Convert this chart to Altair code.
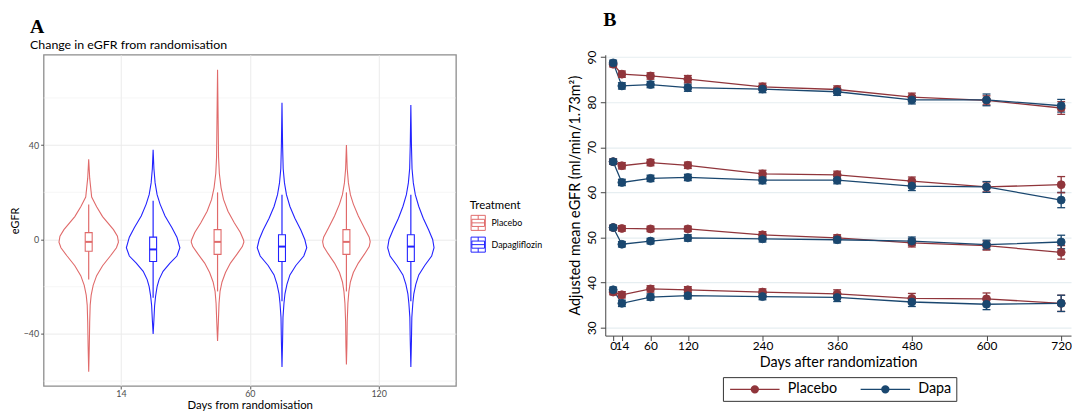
import altair as alt
import pandas as pd

FONT = "Lato"

# ---------------- Panel A data ----------------
TREATMENTS_A = ["Placebo", "Dapagliflozin"]
DAY_LABELS_A = ["14", "60", "120"]
COLORS_A = ["#E06A6A", "#2222FF"]

# violin outlines: eGFR change values and relative half-width (density)
viol_p14_y = [34, 26, 18, 13.9, 9.7, 4.2, 1.4, -1.1, -3.5, -6.9, -11.1, -15.3, -19.4, -23.6, -27.8, -35, -45, -56]
viol_p14_w = [0, 1, 3, 8, 14, 25, 29, 30, 28, 22, 14, 8, 4.5, 2.5, 1.5, 1, 0.6, 0]
viol_d14_y = [38, 30, 24, 19, 15, 10, 5, 1, -3.5, -7, -10, -13.5, -17, -20, -24, -28, -34, -40]
viol_d14_w = [0, 0.8, 2, 4, 7, 12, 19, 24, 27, 24, 17, 10, 6, 4, 2.5, 1.5, 0.8, 0]
viol_p60_y = [72, 50, 35, 28, 22, 17, 12, 7, 3, 0, -1, -3, -6, -10, -14, -18, -22, -27, -35, -43]
viol_p60_w = [0, 0.6, 1, 1.8, 3.5, 6, 10.5, 17, 23, 26, 26.6, 25, 20, 13, 8, 4.5, 2.5, 1.5, 0.8, 0]
viol_d60_y = [58, 40, 30, 24, 19, 14, 9, 4, 0, -3.5, -7, -11, -15, -19, -23, -27, -33, -43, -54]
viol_d60_w = [0, 0.6, 1.2, 2.5, 4.5, 8, 13, 19, 23, 25, 22, 14, 8, 5, 3, 2, 1, 0.6, 0]
viol_p120_y = [40, 30, 24, 19, 15, 10, 5, 1, -1, -3, -6, -10, -14, -18, -22, -27, -35, -45, -53]
viol_p120_w = [0, 0.8, 2, 4, 7, 12, 18, 23, 24, 23, 18.5, 12, 7, 4, 2.5, 1.5, 0.8, 0.5, 0]
viol_d120_y = [57, 40, 30, 24, 19, 14, 9, 4, 0, -3.5, -7, -11, -15, -19, -23, -27, -33, -43, -54]
viol_d120_w = [0, 0.6, 1.2, 2.5, 4.5, 8, 12.5, 18, 22, 23.4, 21, 14, 8, 5, 3, 2, 1, 0.6, 0]

# boxplots, order: P14, D14, P60, D60, P120, D120
box_q1 = [-5.0, -9.3, -6.3, -9.3, -6.3, -9.3]
box_med = [-1.0, -4.2, -1.0, -3.0, -1.0, -3.0]
box_q3 = [2.9, 1.0, 4.2, 2.0, 4.2, 2.0]
box_lo = [-16.9, -24.7, -22.0, -26.2, -22.0, -26.2]
box_hi = [14.8, 16.4, 20.0, 19.0, 20.0, 19.0]

MINOR_GRID_A = [-60, -20, 20, 60]

# ---------------- Panel B data ----------------
DAYS_B = [0, 14, 60, 120, 240, 360, 480, 600, 720]
TREATMENTS_B = ["Placebo", "Dapa"]
COLORS_B = ["#90353B", "#1A476F"]

g1_placebo = [88.4, 86.2, 85.8, 85.1, 83.4, 82.8, 81.1, 80.4, 78.7]
g1_dapa = [88.7, 83.6, 83.9, 83.2, 82.9, 82.3, 80.5, 80.5, 79.2]
g2_placebo = [66.8, 65.9, 66.6, 66.0, 64.1, 63.9, 62.5, 61.2, 61.7]
g2_dapa = [66.8, 62.2, 63.1, 63.3, 62.7, 62.7, 61.4, 61.2, 58.3]
g3_placebo = [52.2, 52.0, 51.9, 51.9, 50.6, 49.9, 48.8, 48.2, 46.7]
g3_dapa = [52.2, 48.5, 49.2, 49.9, 49.7, 49.5, 49.2, 48.4, 49.0]
g4_placebo = [37.9, 37.3, 38.6, 38.4, 37.9, 37.5, 36.5, 36.4, 35.4]
g4_dapa = [38.4, 35.4, 36.8, 37.1, 36.9, 36.7, 35.7, 35.2, 35.4]

g1_placebo_ci = [0.6, 0.7, 0.7, 0.8, 0.8, 0.8, 0.9, 1.0, 1.4]
g1_dapa_ci = [0.6, 0.7, 0.7, 0.8, 0.8, 0.8, 0.9, 1.3, 1.4]
g2_placebo_ci = [0.6, 0.7, 0.7, 0.7, 0.8, 0.8, 0.9, 1.1, 1.8]
g2_dapa_ci = [0.6, 0.7, 0.7, 0.7, 0.8, 0.8, 1.0, 1.2, 1.7]
g3_placebo_ci = [0.5, 0.6, 0.6, 0.6, 0.7, 0.7, 0.9, 1.0, 1.5]
g3_dapa_ci = [0.5, 0.6, 0.6, 0.7, 0.7, 0.7, 0.9, 1.0, 1.5]
g4_placebo_ci = [0.6, 0.7, 0.7, 0.7, 0.7, 0.9, 1.1, 1.3, 1.8]
g4_dapa_ci = [0.6, 0.7, 0.7, 0.7, 0.7, 0.9, 1.0, 1.2, 1.8]

# ---------------- build tables ----------------
DODGE = 0.25          # dodge offset (category units)
DENS_PX = 130.0       # px per category unit for density widths
BOX_HALF = 0.027      # box half width (category units)

violins = [
    (0, "Placebo", viol_p14_y, viol_p14_w),
    (0, "Dapagliflozin", viol_d14_y, viol_d14_w),
    (1, "Placebo", viol_p60_y, viol_p60_w),
    (1, "Dapagliflozin", viol_d60_y, viol_d60_w),
    (2, "Placebo", viol_p120_y, viol_p120_w),
    (2, "Dapagliflozin", viol_d120_y, viol_d120_w),
]
vrows, brows = [], []
for k, (di, tr, ys, ws) in enumerate(violins):
    c = di + 1 + (-DODGE if tr == "Placebo" else DODGE)
    for y, w in zip(ys, ws):
        vrows.append({"vid": k, "Treatment": tr, "y": y,
                      "xl": c - w / DENS_PX, "xr": c + w / DENS_PX})
    brows.append({"vid": k, "Treatment": tr, "c": c,
                  "bl": c - BOX_HALF, "br": c + BOX_HALF,
                  "q1": box_q1[k], "med": box_med[k], "q3": box_q3[k],
                  "lo": box_lo[k], "hi": box_hi[k]})
vdf = pd.DataFrame(vrows)
bdf = pd.DataFrame(brows)
gdf = pd.DataFrame({"g": MINOR_GRID_A})

series = [
    ("g1", "Placebo", g1_placebo, g1_placebo_ci), ("g1", "Dapa", g1_dapa, g1_dapa_ci),
    ("g2", "Placebo", g2_placebo, g2_placebo_ci), ("g2", "Dapa", g2_dapa, g2_dapa_ci),
    ("g3", "Placebo", g3_placebo, g3_placebo_ci), ("g3", "Dapa", g3_dapa, g3_dapa_ci),
    ("g4", "Placebo", g4_placebo, g4_placebo_ci), ("g4", "Dapa", g4_dapa, g4_dapa_ci),
]
lrows = []
for order in ["Placebo", "Dapa"]:
    for g, tr, vals, cis in series:
        if tr != order:
            continue
        for d, v, e in zip(DAYS_B, vals, cis):
            lrows.append({"grp": g + tr, "Treatment": tr, "day": d, "v": v,
                          "lo": v - e, "hi": v + e})
ldf = pd.DataFrame(lrows)

# ---------------- Panel A chart ----------------
xsA = alt.Scale(domain=[0.4, 3.6], nice=False, zero=False)
ysA = alt.Scale(domain=[-62.1, 78.3], nice=False, zero=False)
strokeA = alt.Scale(domain=TREATMENTS_A, range=COLORS_A)
lab_expr = "[''," + ",".join("'%s'" % s for s in DAY_LABELS_A) + "][datum.value]"

axXA = alt.Axis(values=[1, 2, 3], labelExpr=lab_expr, title="Days from randomisation",
                grid=True, gridColor="#EBEBEB", gridWidth=1, domain=False,
                tickColor="#555", tickSize=3, labelColor="#4D4D4D", labelFontSize=9,
                labelFont=FONT, labelPadding=1, titleFont=FONT, titleFontSize=11.5,
                titleFontWeight="normal", titlePadding=1, labelFlush=False)
axYA = alt.Axis(values=[-40, 0, 40], title="eGFR", grid=True, gridColor="#EBEBEB",
                domain=False, tickColor="#555", tickSize=3, labelColor="#4D4D4D",
                labelFontSize=9, labelFont=FONT, labelPadding=2, titleFont=FONT,
                titleFontSize=11, titleFontWeight="normal", titlePadding=3)

SYM_BOX = ("M-0.9,-0.95H0.9V0.95H-0.9Z M-0.8,-0.45H0.8V0.45H-0.8Z M-0.8,0H0.8 "
           "M0,-0.95V-0.45 M0,0.45V0.95")
legA = alt.Legend(orient="none", legendX=431, legendY=147, title="Treatment",
                  titleFont=FONT, titleFontSize=11.5, titleFontWeight="normal",
                  titlePadding=3, labelFont=FONT, labelFontSize=9, labelColor="black",
                  symbolType=SYM_BOX, symbolSize=256, symbolStrokeWidth=1,
                  symbolFillColor="white", rowPadding=1, labelOffset=5, padding=0)

grid_minor = alt.Chart(gdf).mark_rule(color="#F0F0F0", strokeWidth=0.6).encode(
    y=alt.Y("g:Q", scale=ysA, axis=axYA))

violin = alt.Chart(vdf).mark_area(orient="horizontal", fill="white", strokeWidth=1.1).encode(
    y=alt.Y("y:Q", scale=ysA, axis=axYA),
    x=alt.X("xl:Q", scale=xsA, axis=axXA, stack=None),
    x2="xr:Q",
    detail="vid:N",
    stroke=alt.Stroke("Treatment:N", scale=strokeA, legend=legA),
)
whisk = alt.Chart(bdf).mark_rule(strokeWidth=1.2).encode(
    x=alt.X("c:Q", scale=xsA, axis=axXA),
    y=alt.Y("lo:Q", scale=ysA, axis=axYA), y2="hi:Q",
    stroke=alt.Stroke("Treatment:N", scale=strokeA, legend=legA),
)
box = alt.Chart(bdf).mark_rect(fill="white", strokeWidth=1.1).encode(
    x=alt.X("bl:Q", scale=xsA, axis=axXA), x2="br:Q",
    y=alt.Y("q1:Q", scale=ysA, axis=axYA), y2="q3:Q",
    stroke=alt.Stroke("Treatment:N", scale=strokeA, legend=legA),
)
med = alt.Chart(bdf).mark_rule(strokeWidth=2).encode(
    x=alt.X("bl:Q", scale=xsA, axis=axXA), x2="br:Q",
    y=alt.Y("med:Q", scale=ysA, axis=axYA),
    stroke=alt.Stroke("Treatment:N", scale=strokeA, legend=legA),
)

chartA = alt.layer(grid_minor, violin, whisk, box, med).properties(
    width=417, height=335,
    view=alt.ViewBackground(stroke="#8C8C8C", strokeWidth=1.3),
    title=alt.TitleParams("A", subtitle="Change in eGFR from randomisation",
                          anchor="start", font="Liberation Serif", fontSize=20,
                          fontWeight="bold", color="black", subtitleFont=FONT,
                          subtitleFontSize=12.5, subtitleColor="black",
                          subtitlePadding=3, offset=3, dx=21),
)

# ---------------- Panel B chart ----------------
xsB = alt.Scale(domain=[-12.7, 735.8], nice=False, zero=False)
ysB = alt.Scale(domain=[28.25, 90.5], nice=False, zero=False)
colB = alt.Scale(domain=TREATMENTS_B, range=COLORS_B)

axXB = alt.Axis(values=DAYS_B, title="Days after randomization", grid=False,
                domainColor="#444", tickColor="#444", tickSize=5, labelFont=FONT,
                labelFontSize=12, labelColor="black", labelPadding=0, labelOverlap=False,
                labelFlush=False, titleFont=FONT, titleFontSize=14.5,
                titleFontWeight="normal", titlePadding=4)
axYB = alt.Axis(values=[30, 40, 50, 60, 70, 80, 90],
                title="Adjusted mean eGFR (ml/min/1.73m²)", grid=True,
                gridColor="#E6EEF1", gridWidth=1.2, domainColor="#444", tickColor="#444",
                tickSize=5, labelFont=FONT, labelFontSize=12, labelColor="black",
                labelAngle=270, labelAlign="center", labelBaseline="bottom",
                labelPadding=2, titleFont=FONT, titleFontSize=14.5,
                titleFontWeight="normal", titlePadding=3)

SYM_LINE = "M-1,0H9 M4.7,0A0.7,0.7,0,1,1,3.3,0A0.7,0.7,0,1,1,4.7,0"
legB = alt.Legend(orient="none", legendX=119, legendY=326, direction="horizontal",
                  title=None, symbolType=SYM_LINE, symbolSize=100, symbolStrokeWidth=1.5,
                  labelFont=FONT, labelFontSize=14.5, labelColor="black", labelOffset=46,
                  strokeColor="#333", padding=5, fillColor="white", columnPadding=20)

lines = alt.Chart(ldf).mark_line(strokeWidth=1.3).encode(
    x=alt.X("day:Q", scale=xsB, axis=axXB),
    y=alt.Y("v:Q", scale=ysB, axis=axYB),
    detail="grp:N",
    stroke=alt.Stroke("Treatment:N", scale=colB, legend=legB),
)
ebar = alt.Chart(ldf).mark_rule(strokeWidth=1.3).encode(
    x=alt.X("day:Q", scale=xsB, axis=axXB),
    y=alt.Y("lo:Q", scale=ysB, axis=axYB), y2="hi:Q",
    stroke=alt.Stroke("Treatment:N", scale=colB, legend=legB),
)
cap_hi = alt.Chart(ldf).mark_rule(strokeWidth=1.3, xOffset=-4, x2Offset=4).encode(
    x=alt.X("day:Q", scale=xsB, axis=axXB), x2="day:Q",
    y=alt.Y("hi:Q", scale=ysB, axis=axYB),
    stroke=alt.Stroke("Treatment:N", scale=colB, legend=legB),
)
cap_lo = alt.Chart(ldf).mark_rule(strokeWidth=1.3, xOffset=-4, x2Offset=4).encode(
    x=alt.X("day:Q", scale=xsB, axis=axXB), x2="day:Q",
    y=alt.Y("lo:Q", scale=ysB, axis=axYB),
    stroke=alt.Stroke("Treatment:N", scale=colB, legend=legB),
)
pts = alt.Chart(ldf).mark_point(filled=True, size=65, strokeWidth=0.8, opacity=1).encode(
    x=alt.X("day:Q", scale=xsB, axis=axXB),
    y=alt.Y("v:Q", scale=ysB, axis=axYB),
    fill=alt.Fill("Treatment:N", scale=colB, legend=legB),
    stroke=alt.Stroke("Treatment:N", scale=colB, legend=legB),
)

chartB = alt.layer(lines, ebar, cap_hi, cap_lo, pts).properties(
    width=471, height=284,
    title=alt.TitleParams("B", anchor="start", font="Liberation Serif", fontSize=20,
                          fontWeight="bold", color="black", offset=20, dx=36),
)

chart = alt.hconcat(chartA, chartB, spacing=23).resolve_scale(
    x="independent", y="independent", stroke="independent", fill="independent"
).resolve_legend(stroke="independent", fill="independent").properties(
    padding={"left": 0, "top": 0, "right": 0, "bottom": 0}
).configure_view(stroke=None)

chart.save("out.html", embed_options={"renderer": "svg", "actions": False})
